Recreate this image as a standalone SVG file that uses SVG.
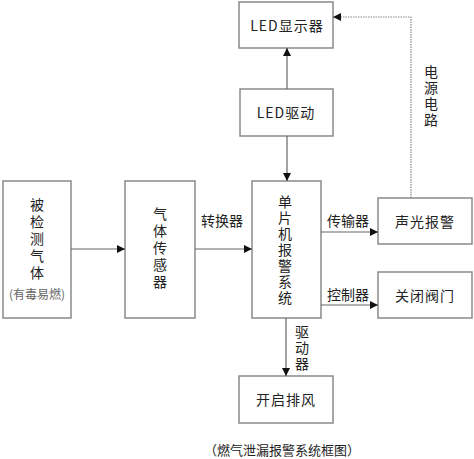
<svg xmlns="http://www.w3.org/2000/svg" width="474" height="459" viewBox="0 0 474 459">
<defs>
<marker id="arr" viewBox="0 0 10 10" refX="10" refY="5" markerWidth="8" markerHeight="8" markerUnits="userSpaceOnUse" orient="auto">
<path d="M0,0 L10,5 L0,10 Z" fill="#111"/>
</marker>
</defs>
<style>
.box{fill:#fff;stroke:#8a8a8a;stroke-width:1.5}
.t{font-family:"Noto Sans CJK SC","DejaVu Sans",sans-serif;font-size:14px;fill:#222;text-anchor:middle;dominant-baseline:central}
.v{writing-mode:vertical-rl}
.s{font-size:12px;fill:#666}
.c{font-size:13px}
.ln{stroke:#666;stroke-width:1.2;fill:none}
.dot{stroke:#888;stroke-width:1.2;fill:none;stroke-dasharray:1.5 1}
</style>
<rect width="474" height="459" fill="#fff"/>
<g id="gas">
<rect class="box" x="3" y="181" width="68" height="137"/>
<text class="t v" x="37" y="240" letter-spacing="3">被检测气体</text>
<text class="t s" x="37" y="293">(有毒易燃)</text>
</g>
<g id="sensor">
<rect class="box" x="125" y="181" width="70" height="137"/>
<text class="t v" x="160" y="249" letter-spacing="3">气体传感器</text>
</g>
<g id="mcu">
<rect class="box" x="252" y="181" width="69" height="137"/>
<text class="t v" x="285" y="251" letter-spacing="2">单片机报警系统</text>
</g>
<g id="led-display">
<rect class="box" x="239" y="2" width="94" height="46"/>
<text class="t" x="287" y="25" letter-spacing="1">LED显示器</text>
</g>
<g id="led-driver">
<rect class="box" x="240" y="89" width="93" height="47"/>
<text class="t" x="286" y="112" letter-spacing="1">LED驱动</text>
</g>
<g id="alarm">
<rect class="box" x="378" y="198" width="94" height="46"/>
<text class="t" x="425" y="221" letter-spacing="1">声光报警</text>
</g>
<g id="valve">
<rect class="box" x="378" y="272" width="94" height="46"/>
<text class="t" x="425" y="295" letter-spacing="1">关闭阀门</text>
</g>
<g id="fan">
<rect class="box" x="239" y="376" width="94" height="47"/>
<text class="t" x="286" y="399" letter-spacing="1">开启排风</text>
</g>
<g id="connectors">
<line class="ln" x1="71" y1="249" x2="125" y2="249" marker-end="url(#arr)"/>
<line class="ln" x1="195" y1="249" x2="252" y2="249" marker-end="url(#arr)"/>
<line class="ln" x1="287" y1="89" x2="287" y2="48" marker-end="url(#arr)"/>
<line class="ln" x1="287" y1="136" x2="287" y2="181" marker-end="url(#arr)"/>
<line class="ln" x1="321" y1="232" x2="378" y2="232" marker-end="url(#arr)"/>
<line class="ln" x1="321" y1="305" x2="378" y2="305" marker-end="url(#arr)"/>
<line class="ln" x1="286" y1="318" x2="286" y2="376" marker-end="url(#arr)"/>
<polyline class="dot" points="411,198 411,17 333,17" marker-end="url(#arr)"/>
<text class="t" x="222" y="220">转换器</text>
<text class="t" x="348" y="220">传输器</text>
<text class="t" x="348" y="294">控制器</text>
<text class="t v" x="302" y="349" letter-spacing="2">驱动器</text>
<text class="t v" x="431" y="97" letter-spacing="2">电源电路</text>
</g>
<text class="t c" x="282" y="449">（燃气泄漏报警系统框图）</text>
</svg>
